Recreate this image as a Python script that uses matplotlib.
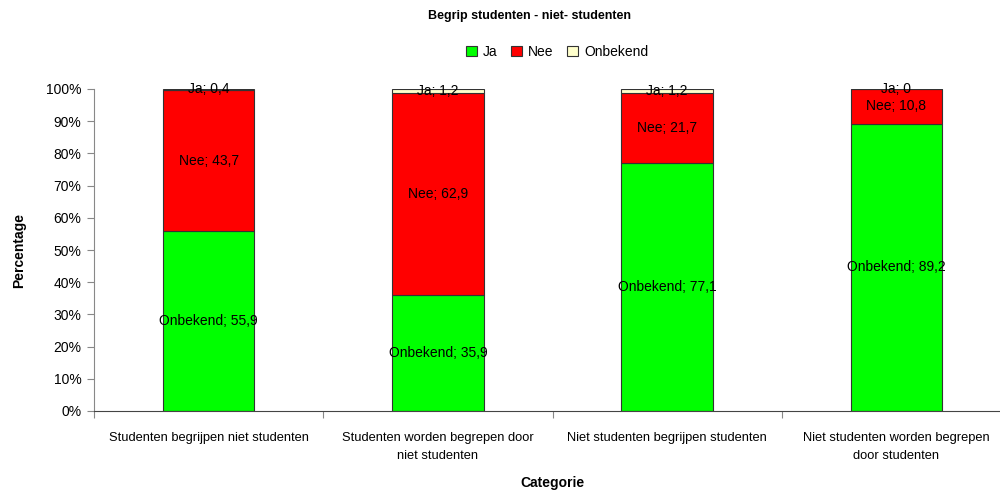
import matplotlib
matplotlib.use('Agg')
import matplotlib.pyplot as plt
import numpy as np
from matplotlib.ticker import FuncFormatter, FixedLocator

plt.rcParams['font.family'] = ['Liberation Sans', 'DejaVu Sans']

categories = ['Studenten begrijpen niet studenten',
              'Studenten worden begrepen door\nniet studenten',
              'Niet studenten begrijpen studenten',
              'Niet studenten worden begrepen\ndoor studenten']
ja = [55.9, 35.9, 77.1, 89.2]
nee = [43.7, 62.9, 21.7, 10.8]
onbekend = [0.4, 1.2, 1.2, 0.0]

# labels as they appear in the original chart
lbl_bottom = ['Onbekend; 55,9', 'Onbekend; 35,9', 'Onbekend; 77,1', 'Onbekend; 89,2']
lbl_middle = ['Nee; 43,7', 'Nee; 62,9', 'Nee; 21,7', 'Nee; 10,8']
lbl_top = ['Ja; 0,4', 'Ja; 1,2', 'Ja; 1,2', 'Ja; 0']

fig = plt.figure(figsize=(10, 4.92), dpi=100)
ax = fig.add_axes([0.094, 1 - 411/492, 0.917, 322/492])

x = np.arange(len(categories))
ja = np.array(ja); nee = np.array(nee); onbekend = np.array(onbekend)
w = 0.4
kw = dict(width=w, edgecolor='#333333', linewidth=0.8)
ax.bar(x, ja, color='#00FF00', label='Ja', **kw)
ax.bar(x, nee, bottom=ja, color='#FF0000', label='Nee', **kw)
ax.bar(x, onbekend, bottom=ja + nee, color='#FFFFCC', label='Onbekend', **kw)

for i in range(len(x)):
    ax.text(x[i], ja[i] / 2, lbl_bottom[i], ha='center', va='center', fontsize=10)
    ax.text(x[i], ja[i] + nee[i] / 2, lbl_middle[i], ha='center', va='center', fontsize=10)
    ax.text(x[i], ja[i] + nee[i] + onbekend[i] / 2 + 0.05, lbl_top[i],
            ha='center', va='center', fontsize=10)

ax.set_xlim(-0.5, 3.5)
ax.set_ylim(0, 100)
ax.set_yticks(np.arange(0, 101, 10))
ax.yaxis.set_major_formatter(FuncFormatter(lambda v, p: f'{int(v)}%'))
ax.xaxis.set_major_locator(FixedLocator(np.arange(-0.5, 4, 1)))
ax.set_xticklabels([])
ax.xaxis.set_minor_locator(FixedLocator(x))
ax.set_xticklabels(categories, minor=True, fontsize=9.3, linespacing=1.7)
ax.tick_params(axis='x', which='minor', length=0, pad=15)
ax.tick_params(axis='x', which='major', length=5, color='#888888')
ax.tick_params(axis='y', length=5, color='#888888', labelsize=10, pad=4)

ax.spines['top'].set_visible(False)
ax.spines['right'].set_visible(False)
ax.spines['left'].set_color('#888888')
ax.spines['bottom'].set_color('#444444')

ax.set_ylabel('Percentage', fontsize=10, fontweight='bold', labelpad=14)
ax.set_xlabel('Categorie', fontsize=10, fontweight='bold', labelpad=10)
fig.text(0.53, 1 - 16/492, 'Begrip studenten - niet- studenten', ha='center', va='center',
         fontsize=9, fontweight='bold')

ax.legend(loc='center', bbox_to_anchor=(0.557, 1 - 52/492), bbox_transform=fig.transFigure,
          ncol=3, frameon=False, fontsize=10, handlelength=0.8, handleheight=0.8,
          columnspacing=1.0, handletextpad=0.4)

fig.savefig('out.png', dpi=100)
